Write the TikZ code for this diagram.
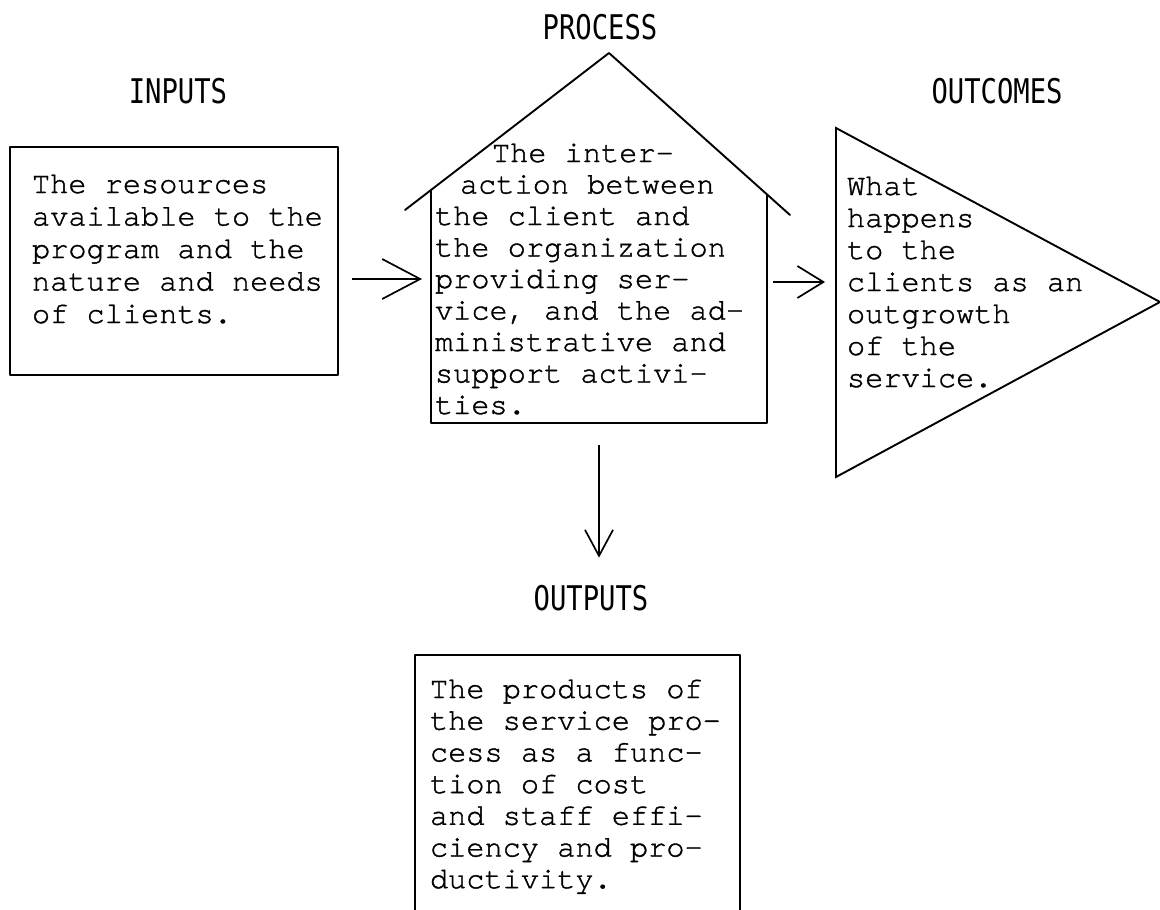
\documentclass[tikz,border=0pt]{standalone}
\usepackage{fontspec}
\usepackage{graphicx}
\usetikzlibrary{arrows.meta}
\newfontfamily\twfont{TeX Gyre Cursor}[Ligatures=NoCommon, FakeBold=1.2]
\newfontfamily\headfont{DejaVu Sans Mono}
% typewritten block: #1 = line pitch, #2 = lines
\newcommand\tlines[2]{{\twfont\fontsize{30.3}{#1}\selectfont\begin{tabular}[t]{@{}l@{}}#2\end{tabular}}}
% condensed heading
\newcommand\headtxt[1]{{\headfont\fontsize{34}{34}\selectfont\scalebox{0.8}[1]{#1}}}
\tikzset{
  outline/.style={line width=1.9pt, line join=round, line cap=round},
  ghost/.style={inner sep=0pt, outer sep=0pt},
  blocktext/.style={inner sep=0pt, outer sep=0pt, anchor=base west},
  heading/.style={inner sep=0pt, outer sep=0pt, anchor=center},
  arr/.style={line width=1.7pt},
}
\begin{document}
\begin{tikzpicture}[x=1pt,y=-1pt]
\useasboundingbox[fill=white] (0,0) rectangle (1160,910);

% headings
\node[heading] (lin)   at (178,91)  {\headtxt{INPUTS}};
\node[heading] (lproc) at (600,27)  {\headtxt{PROCESS}};
\node[heading] (lres)  at (997,91)  {\headtxt{OUTCOMES}};
\node[heading] (lout)  at (591,598) {\headtxt{OUTPUTS}};

% inputs box
\node[ghost, draw, outline, minimum width=328pt, minimum height=228pt] (inp) at (174,261) {};
\node[blocktext] (inptext) at (32,193)
  {\tlines{32.5}{The resources\\available to the\\program and the\\nature and needs\\of clients.}};

% process house
\node[ghost, minimum width=336pt, minimum height=233pt] (proc) at (599,306.5) {};
\coordinate (apex) at (609,53);
\draw[outline] (405,210) -- (apex) -- (790,215);
\draw[outline] (431,190) -- (proc.south west) -- (proc.south east) -- (767,195);
\node[blocktext] (proctext) at (435,162)
  {\tlines{31.5}{\hspace*{57pt}The inter-\\\hspace*{25pt}action between\\the client and\\the organization\\providing ser-\\vice, and the ad-\\ministrative and\\support activi-\\ties.}};

% outcomes triangle
\node[ghost, minimum width=0pt, minimum height=349pt] (outc) at (836,302.5) {};
\coordinate (outctip) at (1160,302);
\draw[outline, line join=miter] (outc.north) -- (outctip) -- (outc.south) -- cycle;
\node[blocktext] (outctext) at (847,195)
  {\tlines{32}{What\\happens\\to the\\clients as an\\outgrowth\\of the\\service.}};

% outputs box (runs past the lower edge)
\node[ghost, minimum width=325pt, minimum height=290pt] (outp) at (577.5,800) {};
\draw[outline] (outp.south west) -- (outp.north west) -- (outp.north east) -- (outp.south east);
\node[blocktext] (outptext) at (430,698)
  {\tlines{31.7}{The products of\\the service pro-\\cess as a func-\\tion of cost\\and staff effi-\\ciency and pro-\\ductivity.}};

% connectors
\draw[arr, -{Straight Barb[length=38pt,width=40pt,line width=1.7pt]}]
  ([shift={(14,18)}]inp.east) -- ([shift={(-9,-27.5)}]proc.west);
\draw[arr, -{Straight Barb[length=26pt,width=32pt,line width=1.7pt]}]
  ([shift={(6,-24.5)}]proc.east) -- ([shift={(-11,-20.5)}]outc.west);
\draw[arr, -{Straight Barb[length=26pt,width=28pt,line width=1.7pt]}]
  ([shift={(0,22)}]proc.south) -- ([shift={(8,-27.5)}]lout.north);
\end{tikzpicture}
\end{document}
